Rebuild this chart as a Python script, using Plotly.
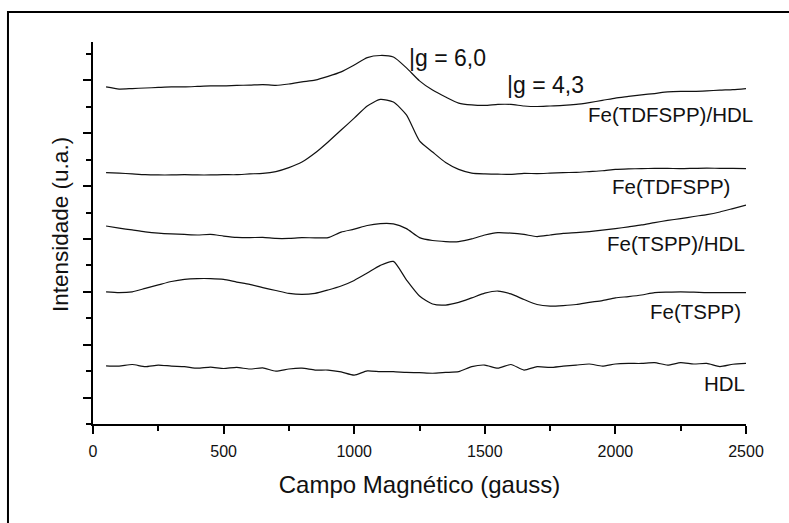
import plotly.graph_objects as go

# Magnetic field (gauss)
field = list(range(50, 2550, 50))

# Stacked EPR spectra, intensity in arbitrary units (1 unit = 1 y tick)
tdfspp_hdl = [12.75, 12.67, 12.69, 12.71, 12.73, 12.75, 12.75, 12.77, 12.79, 12.79,
              12.81, 12.82, 12.84, 12.81, 12.86, 12.94, 13.01, 13.15, 13.32, 13.58,
              13.86, 13.94, 13.88, 13.47, 12.98, 12.63, 12.37, 12.14, 12.07, 12.05,
              12.09, 12.09, 12.03, 12.01, 12.03, 12.05, 12.09, 12.16, 12.24, 12.33,
              12.39, 12.45, 12.50, 12.56, 12.58, 12.58, 12.60, 12.63, 12.65, 12.69]
tdfspp = [9.51, 9.49, 9.46, 9.43, 9.42, 9.42, 9.43, 9.42, 9.42, 9.43,
          9.43, 9.46, 9.48, 9.55, 9.70, 9.91, 10.25, 10.67, 11.12, 11.57,
          12.03, 12.28, 12.18, 11.69, 10.71, 10.29, 9.89, 9.63, 9.49, 9.46,
          9.45, 9.44, 9.48, 9.47, 9.49, 9.51, 9.52, 9.55, 9.58, 9.63,
          9.65, 9.66, 9.67, 9.67, 9.66, 9.67, 9.68, 9.67, 9.67, 9.66]
tspp_hdl = [7.49, 7.41, 7.34, 7.27, 7.22, 7.19, 7.17, 7.15, 7.17, 7.11,
            7.06, 7.05, 7.06, 7.02, 7.02, 7.05, 7.04, 7.05, 7.26, 7.37,
            7.51, 7.58, 7.57, 7.39, 7.05, 6.94, 6.90, 6.90, 7.00, 7.15,
            7.24, 7.22, 7.17, 7.09, 7.15, 7.21, 7.24, 7.28, 7.33, 7.39,
            7.46, 7.53, 7.62, 7.70, 7.77, 7.85, 7.92, 8.02, 8.15, 8.28]
tspp = [5.00, 4.97, 5.00, 5.13, 5.26, 5.39, 5.47, 5.50, 5.50, 5.47,
        5.37, 5.28, 5.16, 5.05, 4.94, 4.90, 4.94, 5.07, 5.22, 5.43,
        5.71, 6.00, 6.15, 5.45, 4.84, 4.54, 4.50, 4.60, 4.77, 4.95,
        5.03, 4.92, 4.71, 4.52, 4.46, 4.48, 4.52, 4.60, 4.67, 4.77,
        4.82, 4.88, 4.97, 4.99, 5.00, 4.99, 4.97, 4.97, 4.97, 4.97]
hdl = [2.20, 2.19, 2.25, 2.17, 2.23, 2.19, 2.17, 2.11, 2.15, 2.10,
       2.14, 2.08, 2.12, 2.00, 2.08, 2.11, 2.04, 2.04, 1.97, 1.85,
       2.01, 1.98, 1.98, 1.95, 1.94, 1.92, 1.95, 1.98, 2.17, 2.23,
       2.11, 2.25, 2.04, 2.17, 2.14, 2.19, 2.23, 2.27, 2.19, 2.27,
       2.29, 2.29, 2.32, 2.23, 2.32, 2.27, 2.29, 2.17, 2.26, 2.29]

series = [tdfspp_hdl, tdfspp, tspp_hdl, tspp, hdl]
names = ["Fe(TDFSPP)/HDL", "Fe(TDFSPP)", "Fe(TSPP)/HDL", "Fe(TSPP)", "HDL"]
# label anchor: right edge as fraction of plot width, y in intensity units
label_x = [1.0142, 0.979, 1.002, 0.9959, 1.002]
label_y = [11.69, 9.00, 6.81, 4.24, 1.55]

x_ticks = [0, 500, 1000, 1500, 2000, 2500]
x_minor = [250, 750, 1250, 1750, 2250]
y_major = [1, 3, 5, 7, 9, 11, 13]
y_minor = [0, 2, 4, 6, 8, 10, 12, 14]

g_labels = ["|g = 6,0", "|g = 4,3"]
g_x = [1201, 1579]
g_y = [13.83, 12.82]

FONT = "Liberation Sans, Arial, sans-serif"
INK = "#111111"

fig = go.Figure()
for ys, nm in zip(series, names):
    fig.add_trace(go.Scatter(x=field, y=ys, mode="lines", name=nm,
                             line=dict(color=INK, width=1.2, shape="spline",
                                       smoothing=0.6),
                             showlegend=False))

annotations = []
for nm, lx, ly in zip(names, label_x, label_y):
    annotations.append(dict(x=lx, y=ly, xref="paper", yref="y", text=nm,
                            showarrow=False, xanchor="right", yanchor="middle",
                            font=dict(family=FONT, size=20.5, color=INK)))
for t, gx, gy in zip(g_labels, g_x, g_y):
    annotations.append(dict(x=gx, y=gy, xref="x", yref="y", text=t,
                            showarrow=False, xanchor="left", yanchor="middle",
                            font=dict(family=FONT, size=23, color=INK)))
# y-axis title
annotations.append(dict(x=-0.049, y=0.521, xref="paper", yref="paper",
                        text="Intensidade (u.a.)", textangle=-90,
                        showarrow=False, xanchor="center", yanchor="middle",
                        font=dict(family=FONT, size=22.5, color=INK)))

fig.update_layout(
    width=789, height=523,
    margin=dict(l=93, r=43.3, t=42, b=99, pad=0),
    paper_bgcolor="white", plot_bgcolor="white",
    annotations=annotations,
    shapes=[dict(type="rect", xref="paper", yref="paper",
                 x0=-0.1302, x1=1.2, y0=-0.4, y1=1.0785,
                 line=dict(color="black", width=2), fillcolor="rgba(0,0,0,0)")],
    xaxis=dict(range=[0, 2500], showgrid=False, zeroline=False,
               showline=True, linecolor="black", linewidth=2,
               tickmode="array", tickvals=x_ticks,
               ticks="outside", ticklen=8, tickwidth=2, tickcolor="black",
               ticklabelstandoff=4,
               tickfont=dict(family=FONT, size=16, color=INK),
               minor=dict(tickmode="array", tickvals=x_minor, ticks="outside",
                          ticklen=5, tickwidth=2, tickcolor="black"),
               title=dict(text="Campo Magnético (gauss)",
                          font=dict(family=FONT, size=24, color=INK),
                          standoff=17)),
    yaxis=dict(range=[0, 14.45], showgrid=False, zeroline=False,
               showline=True, linecolor="black", linewidth=2,
               tickmode="array", tickvals=y_major, showticklabels=False,
               ticks="outside", ticklen=8, tickwidth=2, tickcolor="black",
               minor=dict(tickmode="array", tickvals=y_minor, ticks="outside",
                          ticklen=5, tickwidth=2, tickcolor="black")),
)

fig.write_html("out.html", config={"displayModeBar": False})
